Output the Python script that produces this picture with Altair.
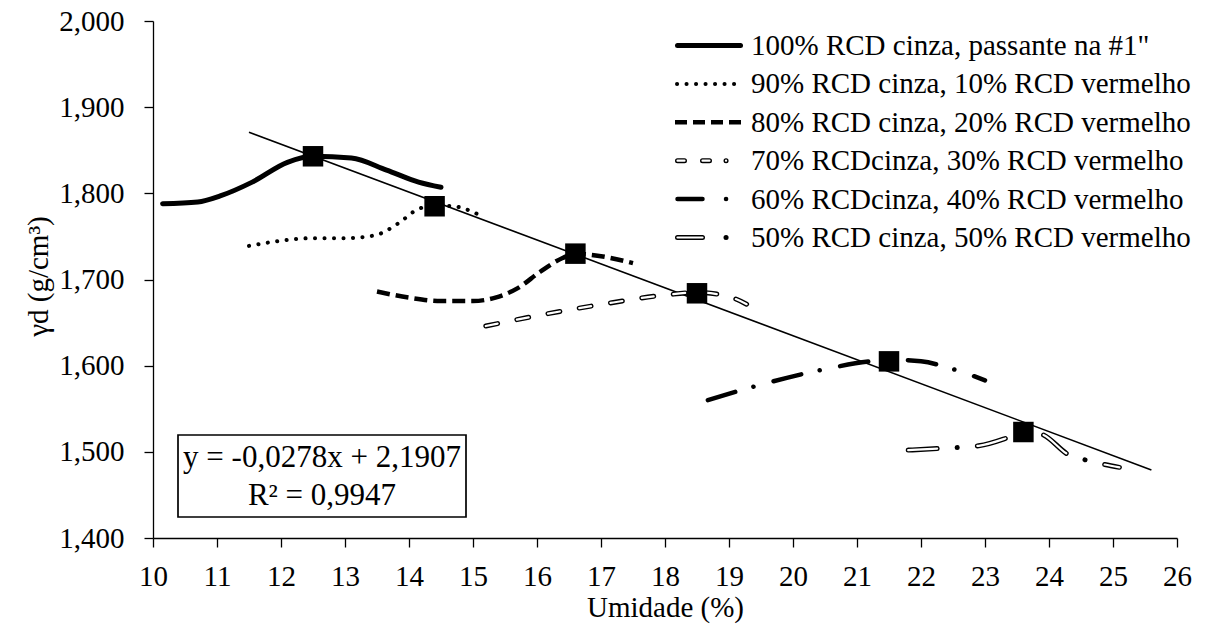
import altair as alt
import pandas as pd

FONT = "Liberation Serif"

# ---------------- data ----------------
X_DOMAIN = [10, 26]
Y_DOMAIN = [1.4, 2.0]
X_TICKS = list(range(10, 27))
Y_TICKS = [1.4, 1.5, 1.6, 1.7, 1.8, 1.9, 2.0]

SERIES_NAMES = [
    '100% RCD cinza, passante na #1"',
    "90% RCD cinza, 10% RCD vermelho",
    "80% RCD cinza, 20% RCD vermelho",
    "70% RCDcinza, 30% RCD vermelho",
    "60% RCDcinza, 40% RCD vermelho",
    "50% RCD cinza, 50% RCD vermelho",
]

S100_X = [10.15, 10.7, 11.05, 11.55, 12.1, 12.5, 13.1, 13.65, 14.15, 14.5]
S100_Y = [1.788, 1.790, 1.797, 1.813, 1.836, 1.843, 1.841, 1.827, 1.813, 1.807]

S90_X = [11.5, 12.0, 12.5, 13.0, 13.45, 13.85, 14.1, 14.4, 14.7, 15.1]
S90_Y = [1.739, 1.745, 1.748, 1.748, 1.751, 1.766, 1.780, 1.786, 1.785, 1.775]

S80_X = [13.5, 14.0, 14.5, 15.0, 15.35, 15.7, 16.05, 16.4, 16.6, 17.0, 17.5]
S80_Y = [1.686, 1.679, 1.675, 1.675, 1.679, 1.690, 1.709, 1.725, 1.730, 1.727, 1.719]

S70_X = [15.2, 16.0, 17.0, 18.0, 18.5, 19.0, 19.45]
S70_Y = [1.646, 1.658, 1.671, 1.682, 1.685, 1.680, 1.664]

S60_X = [18.67, 19.5, 20.5, 21.2, 21.5, 22.0, 22.5, 23.0]
S60_Y = [1.560, 1.578, 1.596, 1.605, 1.607, 1.605, 1.596, 1.583]

S50_X = [21.8, 22.3, 22.9, 23.3, 23.6, 23.9, 24.3, 24.6, 25.1]
S50_Y = [1.502, 1.504, 1.507, 1.515, 1.524, 1.520, 1.497, 1.490, 1.482]

OPT_X = [12.5, 14.4, 16.6, 18.5, 21.5, 23.6]
OPT_Y = [1.843, 1.785, 1.730, 1.684, 1.605, 1.523]

TREND_X = [11.5, 25.6]
TREND_Y = [1.871, 1.479]

EQUATION = ["y = -0,0278x + 2,1907", "R\u00b2 = 0,9947"]

# ---------------- scales / axes ----------------
xscale = alt.Scale(domain=X_DOMAIN, nice=False, zero=False)
yscale = alt.Scale(domain=Y_DOMAIN, nice=False, zero=False)

xaxis = alt.Axis(values=X_TICKS, format="d", labelPadding=15, labelFlush=False,
                 labelOverlap=False, title="Umidade (%)", titleX=512, titleY=78,
                 titleBaseline="alphabetic", titleAlign="center")
yaxis = alt.Axis(values=Y_TICKS, labelExpr="replace(format(datum.value, '.3f'), '.', ',')",
                 labelPadding=20, labelFlush=False, labelOverlap=False,
                 title="\u03b3d (g/cm\u00b3)", titleX=-115, titleY=255,
                 titleBaseline="middle", titleAlign="center")

X = alt.X("x:Q", scale=xscale, axis=xaxis)
Y = alt.Y("y:Q", scale=yscale, axis=yaxis)


def df(xs, ys):
    return pd.DataFrame({"x": xs, "y": ys})


def curve(xs, ys, width, dash=None, color="black", cap="round"):
    kw = dict(color=color, strokeWidth=width, strokeCap=cap, interpolate="monotone")
    if dash:
        kw["strokeDash"] = dash
    return alt.Chart(df(xs, ys)).mark_line(**kw).encode(x=X, y=Y)


ONE = pd.DataFrame({"k": [0]})


def sample(x0, x1, yy, width, dash=None, color="black", cap="round"):
    kw = dict(color=color, strokeWidth=width, strokeCap=cap)
    if dash:
        kw["strokeDash"] = dash
    return alt.Chart(ONE).mark_rule(**kw).encode(
        x=alt.value(x0), x2=alt.value(x1), y=alt.value(yy))


def label(txt, xx, yy, align="left", size=29):
    return alt.Chart(pd.DataFrame({"t": [txt]})).mark_text(
        font=FONT, fontSize=size, color="black", align=align, baseline="alphabetic"
    ).encode(text="t:N", x=alt.value(xx), y=alt.value(yy))


DASH90 = [0.1, 9.4]
DASH80 = [13, 6]
DASH70 = [12, 19.7]
DASH60 = [28.5, 18.9, 0.1, 20.8]
DASH50 = [29, 20, 0.1, 20.2]
DASH50W = [29, 40.3]

layers = []
layers.append(alt.Chart(df(TREND_X, TREND_Y)).mark_line(color="black", strokeWidth=1.6).encode(x=X, y=Y))
layers.append(curve(S100_X, S100_Y, 5))
layers.append(curve(S90_X, S90_Y, 4, DASH90))
layers.append(curve(S80_X, S80_Y, 4.5, DASH80, cap="butt"))
layers.append(curve(S70_X, S70_Y, 5, DASH70))
layers.append(curve(S70_X, S70_Y, 2.2, DASH70, color="white"))
layers.append(curve(S60_X, S60_Y, 4.5, DASH60))
layers.append(curve(S50_X, S50_Y, 5, DASH50))
layers.append(curve(S50_X, S50_Y, 2.2, DASH50W, color="white"))
layers.append(alt.Chart(df(OPT_X, OPT_Y)).mark_point(
    shape="square", filled=True, color="black", opacity=1, size=420).encode(x=X, y=Y))

# ---------------- legend (positions relative to the plot area) ----------------
LX0, LX1, TX = 522, 590, 598
base = [34 + 38.4 * i for i in range(6)]
ly = [b - 9.5 for b in base]
layers.append(sample(LX0 + 2.5, LX1 - 2.5, ly[0], 5))
layers.append(sample(LX0 + 2, LX1, ly[1], 4, DASH90))
layers.append(sample(LX0, LX1, ly[2], 4.5, [12, 6], cap="butt"))
layers.append(sample(LX0 + 2.5, LX1, ly[3], 5, [7, 18, 7, 16.5, 0.1, 40]))
layers.append(sample(LX0 + 2.5, LX1, ly[3], 2.2, [7, 18, 7, 16.5, 0.1, 40], color="white"))
layers.append(sample(LX0 + 2.5, LX1, ly[4], 4.5, [25, 23.5, 0.1, 40]))
layers.append(sample(LX0 + 2.5, LX1, ly[5], 5, [25, 23.5, 0.1, 40]))
layers.append(sample(LX0 + 2.5, LX1, ly[5], 2.2, [25, 63.6], color="white"))
for name, b in zip(SERIES_NAMES, base):
    layers.append(label(name, TX, b))

# ---------------- equation box ----------------
layers.append(alt.Chart(ONE).mark_rect(fill="white", stroke="black", strokeWidth=1.7).encode(
    x=alt.value(25), x2=alt.value(313), y=alt.value(414), y2=alt.value(496)))
layers.append(label(EQUATION[0], 169, 445.7, align="center", size=31))
layers.append(label(EQUATION[1], 169, 484, align="center", size=31))

chart = alt.layer(*layers).properties(
    width=1024, height=517,
    autosize=alt.AutoSizeParams(type="none"),
    padding={"left": 153, "top": 21, "right": 31, "bottom": 92},
    background="white",
).configure_view(strokeWidth=0).configure_axis(
    labelFont=FONT, labelFontSize=29, labelColor="black",
    titleFont=FONT, titleFontSize=29, titleFontWeight="normal", titleColor="black",
    domainColor="black", tickColor="black", domainWidth=1.3, tickWidth=1.3,
    tickSize=9, grid=False,
)

chart.save("out.html", embed_options={"renderer": "svg", "actions": False})
